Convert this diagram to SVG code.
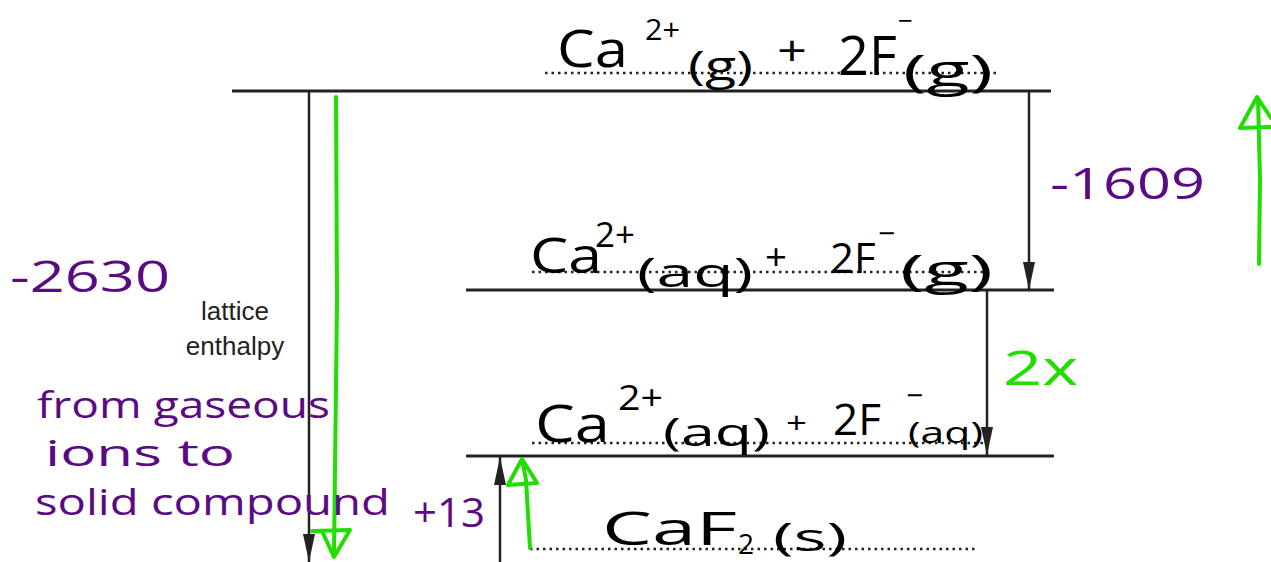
<svg xmlns="http://www.w3.org/2000/svg" width="1271" height="562" viewBox="0 0 1271 562">
<style>
.lvl{stroke:#222;stroke-width:3;fill:none}
.dot{stroke:#222;stroke-width:2.5;stroke-dasharray:2.5 4;fill:none}
.arr{stroke:#222;stroke-width:2.5;fill:none}
.grn{stroke:#22dd00;stroke-width:4;fill:none;stroke-linecap:round;stroke-linejoin:round}
.chem{font-family:"Open Sans","Liberation Sans",sans-serif;fill:#000}
.pur{font-family:"Open Sans","Liberation Sans",sans-serif;fill:#5a0a82}
.lab{font-family:"Liberation Sans",Arial,sans-serif;font-size:26px;fill:#222;text-anchor:middle}
.gt{font-family:"Open Sans","Liberation Sans",sans-serif;fill:#22dd00;font-size:48px}
</style>
<defs>
<marker id="ah" markerWidth="28" markerHeight="12" refX="28" refY="6" orient="auto" markerUnits="userSpaceOnUse" viewBox="0 0 28 12">
<path d="M0,0 L28,6 L0,12 Z" fill="#222"/>
</marker>
</defs>
<g id="level-gas">
<line class="lvl" x1="232" y1="91" x2="1051" y2="91"/>
<line class="dot" x1="545" y1="73" x2="1000" y2="73"/>
<text class="chem" x="557" y="67" font-size="52" textLength="71" lengthAdjust="spacingAndGlyphs">Ca</text>
<text class="chem" x="645" y="40" font-size="30" textLength="35" lengthAdjust="spacingAndGlyphs">2+</text>
<text class="chem" x="688" y="80" font-size="40" textLength="65" lengthAdjust="spacingAndGlyphs">(g)</text>
<text class="chem" x="777" y="66" font-size="42" textLength="30" lengthAdjust="spacingAndGlyphs">+</text>
<text class="chem" x="838" y="75" font-size="54">2F</text>
<text class="chem" x="898" y="30" font-size="26">−</text>
<text class="chem" x="903" y="86" font-size="44" textLength="90" lengthAdjust="spacingAndGlyphs">(g)</text>
</g>
<g id="level-aq-g">
<line class="lvl" x1="466" y1="290" x2="1054" y2="290"/>
<line class="dot" x1="532" y1="272" x2="985" y2="272"/>
<text class="chem" x="530" y="273" font-size="50" textLength="72" lengthAdjust="spacingAndGlyphs">Ca</text>
<text class="chem" x="595" y="247" font-size="34" textLength="40" lengthAdjust="spacingAndGlyphs">2+</text>
<text class="chem" x="637" y="287" font-size="40" textLength="116" lengthAdjust="spacingAndGlyphs">(aq)</text>
<text class="chem" x="765" y="270" font-size="36" textLength="22" lengthAdjust="spacingAndGlyphs">+</text>
<text class="chem" x="830" y="273" font-size="42">2F</text>
<text class="chem" x="878" y="244" font-size="30">−</text>
<text class="chem" x="900" y="285" font-size="42" textLength="93" lengthAdjust="spacingAndGlyphs">(g)</text>
</g>
<g id="level-aq-aq">
<line class="lvl" x1="466" y1="456" x2="1054" y2="456"/>
<line class="dot" x1="532" y1="443" x2="985" y2="443"/>
<text class="chem" x="535" y="442" font-size="52" textLength="75" lengthAdjust="spacingAndGlyphs">Ca</text>
<text class="chem" x="618" y="410" font-size="34" textLength="45" lengthAdjust="spacingAndGlyphs">2+</text>
<text class="chem" x="663" y="446" font-size="38" textLength="107" lengthAdjust="spacingAndGlyphs">(aq)</text>
<text class="chem" x="786" y="433" font-size="30" textLength="21" lengthAdjust="spacingAndGlyphs">+</text>
<text class="chem" x="833" y="435" font-size="44">2F</text>
<text class="chem" x="906" y="406" font-size="30">−</text>
<text class="chem" x="908" y="443" font-size="30" textLength="75" lengthAdjust="spacingAndGlyphs">(aq)</text>
</g>
<g id="level-solid">
<line class="dot" x1="530" y1="549" x2="975" y2="549"/>
<text class="chem" x="602" y="545" font-size="46" textLength="135" lengthAdjust="spacingAndGlyphs">CaF</text>
<text class="chem" x="738" y="554" font-size="28">2</text>
<text class="chem" x="773" y="551" font-size="38" textLength="74" lengthAdjust="spacingAndGlyphs">(s)</text>
</g>
<g id="connectors">
<line class="arr" x1="309" y1="91" x2="309" y2="562" marker-end="url(#ah)"/>
<line class="arr" x1="1029" y1="91" x2="1029" y2="290" marker-end="url(#ah)"/>
<line class="arr" x1="987" y1="290" x2="987" y2="455" marker-end="url(#ah)"/>
<line class="arr" x1="500" y1="562" x2="500" y2="457" marker-end="url(#ah)"/>
<path class="grn" d="M336,97 L337,300 L334,556 M312,531 L350,530 L334,557 L322,531"/>
<path class="grn" d="M530,548 L526,480 L522,459 M522,459 L508,485 L537,483 Z"/>
<path class="grn" d="M1259,264 L1260,180 L1258,98 M1240,128 L1257,97 L1271,118 M1240,128 L1271,127"/>
</g>
<g id="labels">
<text class="lab" x="235" y="320">lattice</text>
<text class="lab" x="235" y="355">enthalpy</text>
<text class="pur" x="10" y="292" font-size="44" textLength="160" lengthAdjust="spacingAndGlyphs">-2630</text>
<text class="pur" x="1050" y="199" font-size="44" textLength="155" lengthAdjust="spacingAndGlyphs">-1609</text>
<text class="pur" x="413" y="527" font-size="40" textLength="72" lengthAdjust="spacingAndGlyphs">+13</text>
<text class="pur" x="37" y="418" font-size="37" textLength="293" lengthAdjust="spacingAndGlyphs">from gaseous</text>
<text class="pur" x="45" y="466" font-size="37" textLength="190" lengthAdjust="spacingAndGlyphs">ions to</text>
<text class="pur" x="35" y="515" font-size="37" textLength="355" lengthAdjust="spacingAndGlyphs">solid compound</text>
<text class="gt" x="1003" y="385" textLength="75" lengthAdjust="spacingAndGlyphs">2x</text>
</g>
</svg>
